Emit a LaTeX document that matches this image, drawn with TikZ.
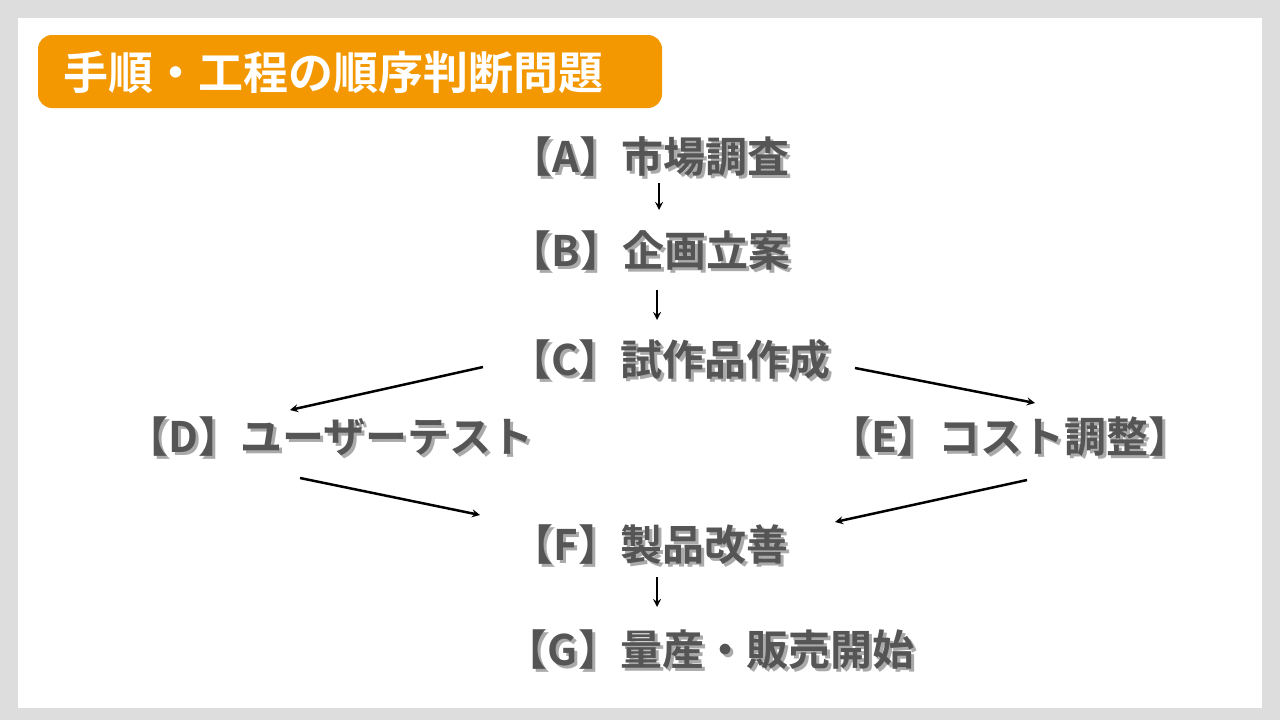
\documentclass[tikz,border=0pt]{standalone}
\usepackage{fontspec}
\setmainfont{Noto Sans CJK JP}[BoldFont={* Bold}]
\usetikzlibrary{positioning}
\definecolor{bgGray}{HTML}{DDDDDD}
\definecolor{titleOrange}{HTML}{F39800}
\definecolor{textGray}{HTML}{555555}
\definecolor{shadowGray}{HTML}{AAAAAA}
\tikzset{
  step text/.style={font=\bfseries\fontsize{42}{46}\selectfont, text=textGray, inner sep=2pt},
  link/.style={->, >=stealth, line width=2.5pt, black},
}
\newcommand{\stepnode}[3]{% name, position, text
  \node[step text, text=shadowGray] at ([shift={(3,3)}]#2) {#3};
  \node[step text] (#1) at (#2) {#3};
}
\begin{document}
\begin{tikzpicture}[x=1pt, y=-1pt]
    % frame
    \fill[bgGray] (0,0) rectangle (1280,720);
    \fill[white] (18,18) rectangle (1262,708);
    \useasboundingbox (0,0) rectangle (1280,720);

    % title
    \fill[titleOrange, rounded corners=14pt] (38,35) rectangle (662,108);
    \node[anchor=west, text=white, font=\bfseries\fontsize{45}{48}\selectfont] (title) at (60,72) {手順・工程の順序判断問題};

    % steps
    \stepnode{A}{650,157}{【A】市場調査}
    \stepnode{B}{650,250}{【B】企画立案}
    \stepnode{C}{670,360}{【C】試作品作成}
    \stepnode{D}{330,437}{【D】ユーザーテスト}
    \stepnode{E}{1010,437}{【E】コスト調整】}
    \stepnode{F}{650,545}{【F】製品改善}
    \stepnode{G}{710,650}{【G】量産・販売開始}

    % arrows
    \draw[link] ([shift={(9,26)}]A.center) -- ([shift={(9,-40)}]B.center);
    \draw[link] ([shift={(7,40)}]B.center) -- ([shift={(-13,-40)}]C.center);
    \draw[link] ([shift={(-187,7)}]C.center) -- ([shift={(-40,-27)}]D.center);
    \draw[link] ([shift={(185,8)}]C.center) -- ([shift={(25,-34)}]E.center);
    \draw[link] ([shift={(-30,41)}]D.center) -- ([shift={(-170,-30)}]F.center);
    \draw[link] ([shift={(17,43)}]E.center) -- ([shift={(185,-23)}]F.center);
    \draw[link] ([shift={(7,32)}]F.center) -- ([shift={(-53,-43)}]G.center);
\end{tikzpicture}
\end{document}
